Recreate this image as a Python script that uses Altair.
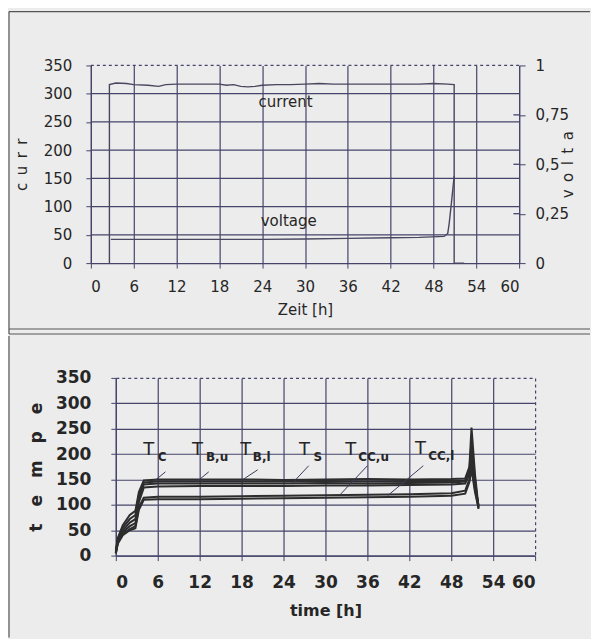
import altair as alt
import pandas as pd

# ---------------- top panel data ----------------
cur_t = [2.6, 2.6, 3.5, 5, 6, 8, 9.5, 10.5, 12, 14, 16, 18, 19, 20, 21, 22, 23, 24, 26, 28,
         30, 32, 34, 36, 38, 40, 42, 44, 46, 48, 50, 50.9, 50.9, 52.3]
cur_v = [0, 316, 319, 318, 316, 315, 313, 316, 317, 317, 317, 317, 315, 316, 313, 312, 313, 315, 316, 316,
         317, 318, 317, 317, 317, 317, 317, 317, 317, 318, 317, 316, 0, 0]

volt_t = [2.8, 6, 12, 18, 24, 30, 36, 42, 46, 49.5, 50.0, 50.2, 50.5, 50.9]
volt_v = [0.12, 0.12, 0.12, 0.12, 0.12, 0.122, 0.125, 0.128, 0.13, 0.135, 0.15, 0.2, 0.3, 0.44]

top_label_text = ["current", "voltage"]
top_label_t = [23.5, 23.8]
top_label_v = [286, 74]

curr_ticks = [0, 50, 100, 150, 200, 250, 300, 350]
curr_grid_solid = [50, 100, 150, 200, 250, 300]
curr_grid_dashed = [350]
volt_ticks = [0, 0.25, 0.5, 0.75, 1]
volt_stub_ticks = [0.25, 0.5, 0.75]
time_ticks = [0, 6, 12, 18, 24, 30, 36, 42, 48, 54, 60]

# ---------------- bottom panel data ----------------
temp_t = [0, 0.3, 1, 2, 2.8, 3.3, 4, 6, 12, 18, 24, 30, 36, 42, 48, 50, 50.6, 50.9, 51.4, 51.9]
temp_series = {
    "T_C":    [10, 35, 60, 80, 88, 125, 148, 150, 150, 150, 149, 150, 151, 150, 151, 152, 175, 252, 160, 95],
    "T_B,u":  [8, 33, 55, 72, 80, 120, 144, 146, 146, 146, 146, 147, 146, 147, 147, 148, 170, 225, 150, 92],
    "T_B,l":  [6, 30, 50, 65, 72, 112, 140, 142, 142, 142, 142, 143, 142, 143, 144, 146, 165, 205, 140, 98],
    "T_S":    [5, 28, 46, 58, 64, 105, 134, 136, 137, 137, 137, 138, 138, 139, 140, 142, 160, 190, 135, 100],
    "T_CC,u": [5, 26, 42, 52, 58, 95, 114, 116, 116, 117, 118, 119, 120, 121, 123, 128, 150, 180, 130, 96],
    "T_CC,l": [4, 24, 40, 50, 54, 90, 110, 111, 111, 112, 113, 114, 115, 116, 118, 122, 145, 170, 125, 93],
}
temp_ticks = [0, 50, 100, 150, 200, 250, 300, 350]

lab_sub = ["C", "B,u", "B,l", "S", "CC,u", "CC,l"]
lab_T_t = [4.7, 11.7, 18.6, 27.0, 33.6, 43.6]
lab_sub_t = [6.0, 12.9, 19.6, 28.3, 34.7, 44.7]
lab_T_v = [208, 208, 208, 208, 208, 210]
lab_sub_v = [194, 194, 194, 194, 194, 196]
lead_t1 = [7.1, 13.3, 20.3, 27.6, 36.0, 44.0]
lead_v1 = [165, 165, 169, 177, 177, 177]
lead_t2 = [5.7, 11.7, 18.1, 25.3, 32.1, 38.9]
lead_v2 = [149, 147, 149, 143, 120, 118]

# ---------------- styling ----------------
BG = "#ececec"
GRID = "#46446a"
TXT = "#262626"
FONT = "DejaVu Sans"
EN = "\u2002"
EM = "\u2003"

ORIGIN = 115           # common plot origin (page x) of both panels
TOP_X0, TOP_X1 = 90, 519
TH = 198
BW, BH = 420, 178

cur_df = pd.DataFrame({"t": cur_t, "c": cur_v})
volt_df = pd.DataFrame({"t": volt_t, "u": volt_v})
stub_df = pd.DataFrame({"u": volt_stub_ticks})
tl_df = pd.DataFrame({"t": top_label_t, "v": top_label_v, "txt": top_label_text})
gs_df = pd.DataFrame({"g": curr_grid_solid})
gd_df = pd.DataFrame({"g": curr_grid_dashed})

x_top_scale = alt.Scale(domain=[0, 60], nice=False, range=[TOP_X0 - ORIGIN, TOP_X1 - ORIGIN])
x_top = alt.X("t:Q", scale=x_top_scale,
              axis=alt.Axis(values=time_ticks, title="Zeit [h]", grid=True,
                            gridColor=GRID, gridOpacity=1, gridWidth=1.2,
                            domainColor=GRID, domainWidth=1.3, tickColor=GRID, tickSize=5,
                            labelFont=FONT, labelFontSize=15, labelColor=TXT, labelPadding=11,
                            titleFont=FONT, titleFontSize=15, titleFontWeight="normal",
                            titleColor=TXT, titlePadding=8))
y_grid = alt.Y("g:Q", scale=alt.Scale(domain=[0, 350], nice=False), axis=None)

grid_solid = alt.Chart(gs_df).mark_rule(color=GRID, strokeWidth=1.2).encode(
    x=alt.datum(0, scale=x_top_scale), x2=alt.datum(60), y=y_grid)
grid_dashed = alt.Chart(gd_df).mark_rule(color=GRID, strokeWidth=1.2, strokeDash=[3, 3]).encode(
    x=alt.datum(0, scale=x_top_scale), x2=alt.datum(60), y=y_grid)

cur_layer = alt.Chart(cur_df).mark_line(color="#4a4660", strokeWidth=1.4).encode(
    x=x_top,
    y=alt.Y("c:Q", scale=alt.Scale(domain=[0, 350], nice=False),
            axis=alt.Axis(values=curr_ticks, title=EN.join("curr"), grid=False, offset=ORIGIN - TOP_X0,
                          domainColor=GRID, domainWidth=1.3, tickColor=GRID, tickSize=5,
                          labelFont=FONT, labelFontSize=15, labelColor=TXT, labelPadding=14,
                          titleFont=FONT, titleFontSize=15, titleFontWeight="normal",
                          titleColor=TXT, titlePadding=14)),
)

y_volt = alt.Y("u:Q", scale=alt.Scale(domain=[0, 1], nice=False),
               axis=alt.Axis(orient="right", values=volt_ticks, title=EN.join("volta"), grid=False,
                             labelExpr="replace(format(datum.value, '~g'), '.', ',')",
                             domainColor=GRID, domainWidth=1.3, tickColor=GRID, tickSize=6,
                             labelFont=FONT, labelFontSize=15, labelColor=TXT, labelPadding=10,
                             titleFont=FONT, titleFontSize=15, titleFontWeight="normal",
                             titleColor=TXT, titleAngle=270, titlePadding=7))

volt_line = alt.Chart(volt_df).mark_line(color="#4a4660", strokeWidth=1.4).encode(x=x_top, y=y_volt)
volt_stubs = alt.Chart(stub_df).mark_rule(color=GRID, strokeWidth=1.3).encode(
    x=alt.datum(59.2, scale=x_top_scale), x2=alt.datum(60), y=y_volt)
volt_layer = alt.layer(volt_line, volt_stubs)

tl_layer = alt.Chart(tl_df).mark_text(align="left", baseline="middle", font=FONT, fontSize=15,
                                      color=TXT).encode(
    x=x_top,
    y=alt.Y("v:Q", scale=alt.Scale(domain=[0, 350], nice=False), axis=None),
    text="txt:N",
)

one = alt.Data(values=[{"a": 1}])
FL = 8 - ORIGIN  # frame left, relative to plot origin
frame_top = alt.layer(
    alt.Chart(one).mark_rule(color="#555", strokeWidth=1.2).encode(
        x=alt.value(FL), y=alt.value(-54), y2=alt.value(269)),
    alt.Chart(one).mark_rule(color="#555", strokeWidth=1.2).encode(
        x=alt.value(FL), x2=alt.value(590 - ORIGIN), y=alt.value(-54)),
    alt.Chart(one).mark_rule(color="#555", strokeWidth=1.2).encode(
        x=alt.value(FL), x2=alt.value(590 - ORIGIN), y=alt.value(264)),
    alt.Chart(one).mark_rule(color="#555", strokeWidth=1.2).encode(
        x=alt.value(FL), x2=alt.value(590 - ORIGIN), y=alt.value(269)),
)

top = alt.layer(grid_solid, grid_dashed, cur_layer, volt_layer, tl_layer, frame_top).resolve_scale(
    y="independent").properties(width=TOP_X1 - ORIGIN, height=TH)

# ---------------- bottom chart ----------------
rows = []
for name, vals in temp_series.items():
    for tt, vv in zip(temp_t, vals):
        rows.append({"t": tt, "v": vv, "s": name})
temp_df = pd.DataFrame(rows)

x_bot = alt.X("t:Q", scale=alt.Scale(domain=[0, 60], nice=False),
              axis=alt.Axis(values=time_ticks, title="time [h]", grid=True,
                            gridColor=GRID, gridOpacity=1, gridWidth=1.2,
                            gridDash=alt.condition("datum.value == 60", alt.value([3, 3]), alt.value([])),
                            domainColor=GRID, domainWidth=1.3, tickColor=GRID, tickSize=5,
                            labelFont=FONT, labelFontSize=17, labelFontWeight="bold", labelColor=TXT,
                            labelPadding=14,
                            titleFont=FONT, titleFontSize=16, titleFontWeight="bold",
                            titleColor=TXT, titlePadding=12))
y_bot = alt.Y("v:Q", scale=alt.Scale(domain=[0, 350], nice=False),
              axis=alt.Axis(values=temp_ticks, title=EM.join("tempe"), grid=True,
                            gridColor=GRID, gridOpacity=1, gridWidth=1.2,
                            gridDash=alt.condition("datum.value == 350", alt.value([3, 3]), alt.value([])),
                            domainColor=GRID, domainWidth=1.3, tickColor=GRID, tickSize=5,
                            labelFont=FONT, labelFontSize=17, labelFontWeight="bold", labelColor=TXT,
                            labelPadding=20,
                            titleFont=FONT, titleFontSize=17, titleFontWeight="bold",
                            titleColor=TXT, titlePadding=10))

temp_layer = alt.Chart(temp_df).mark_line(color="#2d2d2d", strokeWidth=2).encode(
    x=x_bot, y=y_bot, detail="s:N", order="t:Q")

labT_df = pd.DataFrame({"t": lab_T_t, "v": lab_T_v, "txt": ["T"] * len(lab_T_t)})
labS_df = pd.DataFrame({"t": lab_sub_t, "v": lab_sub_v, "txt": lab_sub})
lead_df = pd.DataFrame({"t": lead_t1, "v": lead_v1, "t2": lead_t2, "v2": lead_v2})

labT_layer = alt.Chart(labT_df).mark_text(align="center", baseline="middle", font=FONT, fontSize=18,
                                          color=TXT).encode(x=x_bot, y=y_bot, text="txt:N")
labS_layer = alt.Chart(labS_df).mark_text(align="left", baseline="middle", font=FONT, fontSize=12,
                                          fontWeight="bold", color=TXT).encode(x=x_bot, y=y_bot, text="txt:N")
lead_layer = alt.Chart(lead_df).mark_rule(color="#3a3a5a", strokeWidth=1).encode(
    x=x_bot, y=y_bot, x2="t2:Q", y2="v2:Q")

frame_bot = alt.Chart(one).mark_rule(color="#555", strokeWidth=1.2).encode(
    x=alt.value(FL), y=alt.value(-42), y2=alt.value(260))

bottom = alt.layer(temp_layer, lead_layer, labT_layer, labS_layer, frame_bot).properties(
    width=BW, height=BH)

chart = alt.vconcat(top, bottom, spacing=0).properties(
    padding={"left": 0, "top": 2, "right": 0, "bottom": 0},
    background=BG,
).configure_view(strokeWidth=0)

chart.save("out.html", embed_options={"renderer": "svg", "actions": False})
